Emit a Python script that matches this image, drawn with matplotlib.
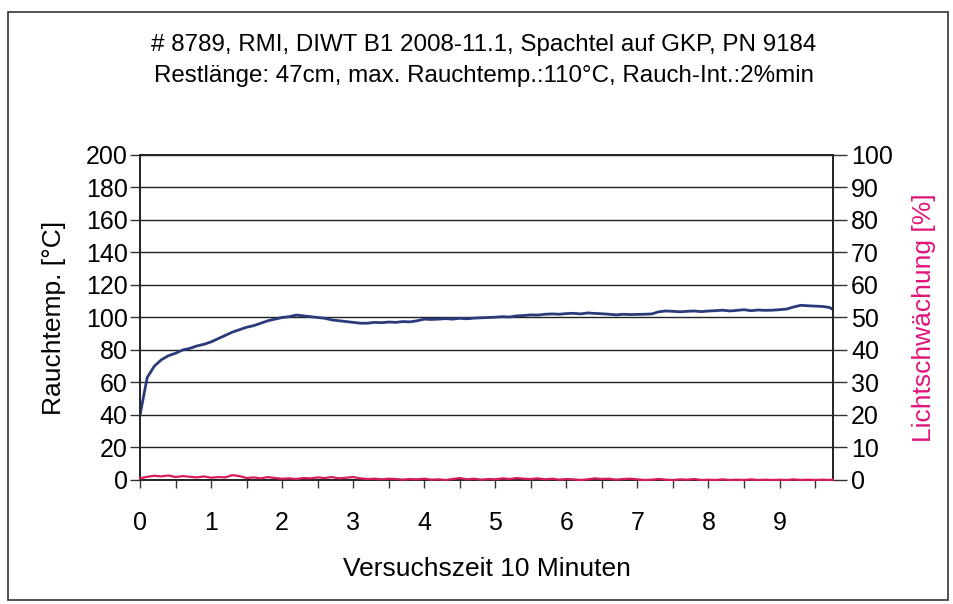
import numpy as np
import matplotlib.pyplot as plt
from matplotlib.patches import Rectangle

plt.rcParams['font.family'] = ['Liberation Sans', 'DejaVu Sans']

# Versuchszeit (x 10 min)
zeit = [0.0, 0.1, 0.2, 0.3, 0.4, 0.5, 0.6, 0.7, 0.8, 0.9,
        1.0, 1.1, 1.2, 1.3, 1.4, 1.5, 1.6, 1.7, 1.8, 1.9,
        2.0, 2.1, 2.2, 2.3, 2.4, 2.5, 2.6, 2.7, 2.8, 2.9,
        3.0, 3.1, 3.2, 3.3, 3.4, 3.5, 3.6, 3.7, 3.8, 3.9,
        4.0, 4.1, 4.2, 4.3, 4.4, 4.5, 4.6, 4.7, 4.8, 4.9,
        5.0, 5.1, 5.2, 5.3, 5.4, 5.5, 5.6, 5.7, 5.8, 5.9,
        6.0, 6.1, 6.2, 6.3, 6.4, 6.5, 6.6, 6.7, 6.8, 6.9,
        7.0, 7.1, 7.2, 7.3, 7.4, 7.5, 7.6, 7.7, 7.8, 7.9,
        8.0, 8.1, 8.2, 8.3, 8.4, 8.5, 8.6, 8.7, 8.8, 8.9,
        9.0, 9.1, 9.2, 9.3, 9.4, 9.5, 9.6, 9.7, 9.75]

# Rauchtemperatur [°C]
rauchtemp = [40, 63, 70, 74, 76.5, 78, 80, 81, 82.5, 83.5,
             85, 87, 89, 91, 92.5, 94, 95, 96.5, 98, 99,
             100, 100.5, 101.5, 101, 100.5, 100, 99.5, 98.5, 98, 97.5,
             97, 96.5, 96.5, 97, 96.8, 97.2, 97, 97.5, 97.3, 98,
             99, 98.8, 99, 99.3, 99, 99.5, 99.2, 99.6, 99.8, 100,
             100.2, 100.5, 100.3, 101, 101.2, 101.6, 101.5, 102, 102.2, 102,
             102.4, 102.6, 102.2, 102.8, 102.5, 102.3, 102, 101.6, 102, 101.8,
             101.9, 102, 102.2, 103.5, 104, 103.8, 103.5, 103.8, 104, 103.6,
             104, 104.2, 104.5, 104, 104.4, 104.8, 104.2, 104.6, 104.4, 104.5,
             104.8, 105.2, 106.5, 107.5, 107.2, 107, 106.8, 106.2, 105]

# Lichtschwaechung [%]
licht = [0.5, 1.0, 1.3, 1.1, 1.4, 0.9, 1.2, 1.0, 0.8, 1.1,
         0.7, 0.9, 0.8, 1.5, 1.2, 0.6, 0.8, 0.5, 0.9, 0.6,
         0.4, 0.5, 0.3, 0.6, 0.5, 0.8, 0.6, 0.9, 0.5, 0.7,
         0.9, 0.5, 0.3, 0.4, 0.2, 0.4, 0.3, 0.1, 0.3, 0.2,
         0.4, 0.1, 0.2, 0.0, 0.3, 0.6, 0.2, 0.4, 0.1, 0.3,
         0.2, 0.5, 0.3, 0.6, 0.4, 0.3, 0.5, 0.2, 0.4, 0.1,
         0.3, 0.2, 0.0, 0.2, 0.5, 0.3, 0.4, 0.1, 0.3, 0.4,
         0.2, 0.0, 0.1, 0.3, 0.1, 0.0, 0.2, 0.1, 0.3, 0.0,
         0.1, 0.0, 0.2, 0.0, 0.1, 0.0, 0.2, 0.0, 0.1, 0.0,
         0.1, 0.0, 0.2, 0.0, 0.1, 0.0, 0.1, 0.0, 0.1]

fig = plt.figure(figsize=(9.54, 6.04), dpi=100)
ax = fig.add_axes([0.1468, 0.2053, 0.7262, 0.5381])

# Rahmen um das Diagramm
fig.patches.append(Rectangle((8 / 954, 1 - 600 / 604), 940 / 954, 588 / 604,
                             transform=fig.transFigure, fill=False,
                             edgecolor='#333333', linewidth=1.2))

ax.plot(zeit, rauchtemp, color='#2b3a7a', linewidth=2.0, zorder=3)
ax.set_xlim(0, 9.75)
ax.set_ylim(0, 200)
ax.set_yticks(np.arange(0, 201, 20))
ax.set_xticks(np.arange(0, 10, 1))
ax.set_xticks(np.arange(0, 9.8, 0.5), minor=True)
ax.tick_params(axis='x', which='both', direction='out', length=6, width=1,
               labelsize=18, pad=16, color='#333333')
ax.tick_params(axis='y', direction='out', length=7, width=1, labelsize=18,
               pad=2, color='#333333')
ax.grid(axis='y', color='#222222', linewidth=1)
for s in ax.spines.values():
    s.set_color('#222222')
    s.set_linewidth(1.2)
ax.set_ylabel('Rauchtemp. [°C]', fontsize=19, labelpad=14)
ax.set_xlabel('Versuchszeit 10 Minuten', fontsize=19, labelpad=16)

ax2 = ax.twinx()
ax2.plot(zeit, licht, color='#d81b5a', linewidth=1.6, zorder=3, clip_on=False)
ax2.set_ylim(0, 100)
ax2.set_yticks(np.arange(0, 101, 10))
ax2.tick_params(axis='y', direction='out', length=10, width=1, labelsize=18,
                pad=3, color='#333333')
ax2.set_ylabel('Lichtschwächung [%]', fontsize=19, color='#e0157a', labelpad=14)
for s in ax2.spines.values():
    s.set_color('#222222')
    s.set_linewidth(1.2)

fig.text(0.507, 1 - 45 / 604, '# 8789, RMI, DIWT B1 2008-11.1, Spachtel auf GKP, PN 9184',
         ha='center', va='center', fontsize=17.4)
fig.text(0.507, 1 - 76 / 604, 'Restlänge: 47cm, max. Rauchtemp.:110°C, Rauch-Int.:2%min',
         ha='center', va='center', fontsize=17.4)

fig.savefig('out.png', dpi=100)
